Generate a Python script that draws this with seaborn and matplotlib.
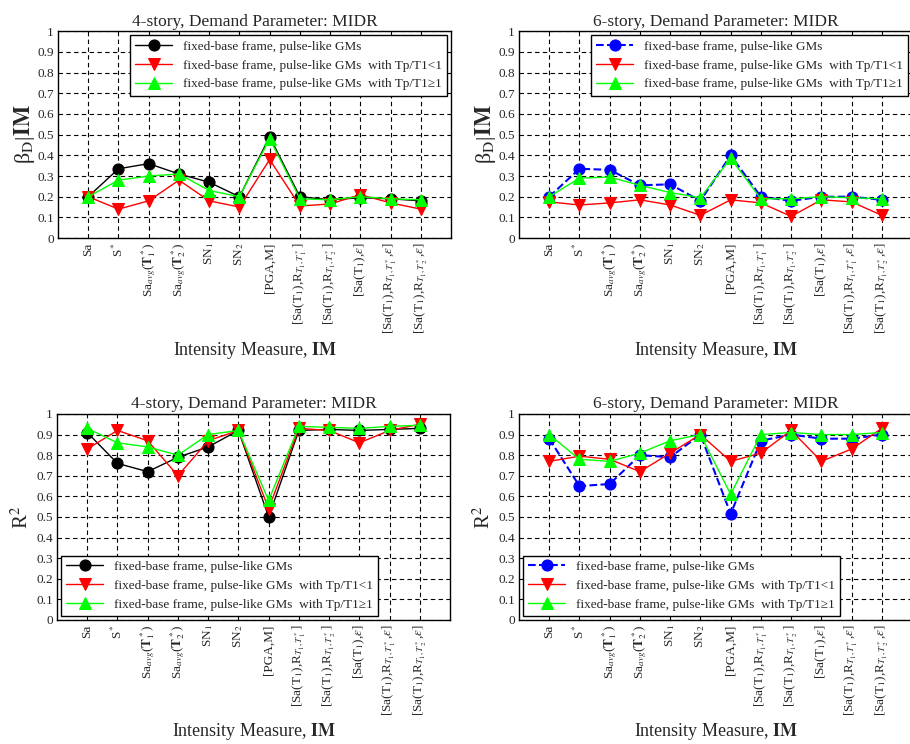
import seaborn as sns
import matplotlib.pyplot as plt

# intensity measures (x categories)
im_labels = [
    'Sa',
    r'S$^*$',
    r'Sa$_{avg}$($\mathbf{T}_1^*$)',
    r'Sa$_{avg}$($\mathbf{T}_2^*$)',
    r'SN$_1$',
    r'SN$_2$',
    '[PGA,M]',
    r'[Sa(T$_1$),R$_{T_1,T_1^*}$]',
    r'[Sa(T$_1$),R$_{T_1,T_2^*}$]',
    r'[Sa(T$_1$),$\varepsilon$]',
    r'[Sa(T$_1$),R$_{T_1,T_1^*}$,$\varepsilon$]',
    r'[Sa(T$_1$),R$_{T_1,T_2^*}$,$\varepsilon$]',
]
im_pos = list(range(1, 13))

# beta_D|IM, 4-story
beta4_all = [0.20, 0.335, 0.36, 0.31, 0.27, 0.20, 0.49, 0.20, 0.185, 0.195, 0.19, 0.18]
beta4_lt1 = [0.20, 0.14, 0.18, 0.28, 0.18, 0.15, 0.38, 0.155, 0.165, 0.21, 0.17, 0.14]
beta4_ge1 = [0.20, 0.28, 0.30, 0.31, 0.23, 0.20, 0.48, 0.19, 0.185, 0.20, 0.19, 0.185]

# beta_D|IM, 6-story
beta6_all = [0.20, 0.335, 0.33, 0.255, 0.26, 0.18, 0.40, 0.20, 0.18, 0.20, 0.20, 0.185]
beta6_lt1 = [0.175, 0.16, 0.17, 0.185, 0.16, 0.11, 0.185, 0.17, 0.105, 0.185, 0.175, 0.11]
beta6_ge1 = [0.20, 0.29, 0.295, 0.255, 0.22, 0.195, 0.385, 0.19, 0.19, 0.20, 0.195, 0.19]

# R^2, 4-story
r2_4_all = [0.91, 0.76, 0.72, 0.79, 0.84, 0.92, 0.50, 0.92, 0.925, 0.92, 0.925, 0.93]
r2_4_lt1 = [0.83, 0.92, 0.87, 0.70, 0.87, 0.92, 0.54, 0.93, 0.92, 0.86, 0.92, 0.95]
r2_4_ge1 = [0.93, 0.86, 0.84, 0.80, 0.90, 0.92, 0.58, 0.94, 0.935, 0.93, 0.94, 0.945]

# R^2, 6-story
r2_6_all = [0.88, 0.65, 0.66, 0.80, 0.79, 0.90, 0.515, 0.87, 0.90, 0.88, 0.88, 0.90]
r2_6_lt1 = [0.77, 0.795, 0.78, 0.72, 0.81, 0.90, 0.77, 0.81, 0.92, 0.77, 0.83, 0.93]
r2_6_ge1 = [0.90, 0.78, 0.77, 0.81, 0.87, 0.90, 0.61, 0.90, 0.91, 0.90, 0.90, 0.91]

leg_labels = [
    'fixed-base frame, pulse-like GMs',
    'fixed-base frame, pulse-like GMs  with Tp/T1<1',
    'fixed-base frame, pulse-like GMs  with Tp/T1\u22651',
]

sns.set_style('white')
plt.rcParams['font.family'] = ['Liberation Serif', 'DejaVu Serif']
plt.rcParams['mathtext.fontset'] = 'stix'

fig = plt.figure(figsize=(9.1, 7.44), dpi=100)
ax_w = 0.432
ax_h = 0.278
axes = [
    fig.add_axes([0.0637, 0.680, ax_w, ax_h]),
    fig.add_axes([0.5703, 0.680, ax_w, ax_h]),
    fig.add_axes([0.0626, 0.1667, ax_w, 0.2769]),
    fig.add_axes([0.5703, 0.1667, ax_w, 0.2769]),
]

panels = [
    (axes[0], '4-story', beta4_all, beta4_lt1, beta4_ge1, 'k', '-', 'beta', 'upper right'),
    (axes[1], '6-story', beta6_all, beta6_lt1, beta6_ge1, 'b', '--', 'beta', 'upper right'),
    (axes[2], '4-story', r2_4_all, r2_4_lt1, r2_4_ge1, 'k', '-', 'r2', 'lower left'),
    (axes[3], '6-story', r2_6_all, r2_6_lt1, r2_6_ge1, 'b', '--', 'r2', 'lower left'),
]

for ax, story, v_all, v_lt1, v_ge1, c_all, ls_all, kind, loc in panels:
    lw_all = 1.5 if ls_all == '--' else 1.0
    sns.lineplot(x=im_pos, y=v_all, ax=ax, color=c_all, linestyle=ls_all,
                 linewidth=lw_all, marker='o', markersize=8,
                 markeredgecolor=c_all, label=leg_labels[0])
    sns.lineplot(x=im_pos, y=v_lt1, ax=ax, color='red', linewidth=1.0,
                 marker='v', markersize=9, markeredgecolor='red',
                 label=leg_labels[1])
    sns.lineplot(x=im_pos, y=v_ge1, ax=ax, color='#00ff00', linewidth=1.0,
                 marker='^', markersize=9, markeredgecolor='#00ff00',
                 label=leg_labels[2])

    ax.set_xlim(0, 13)
    ax.set_ylim(0, 1)
    ax.set_xticks(im_pos)
    ax.set_xticklabels(im_labels, rotation=90, fontsize=9.5)
    ax.set_yticks([i / 10 for i in range(11)])
    ax.set_yticklabels(['0'] + ['0.%d' % i for i in range(1, 10)] + ['1'], fontsize=9.5)
    ax.tick_params(direction='in', length=4, color='k', pad=3)
    ax.grid(True, color='k', linestyle=(0, (4, 3)), linewidth=0.8)
    for sp in ax.spines.values():
        sp.set_color('k')
        sp.set_linewidth(1.0)

    ax.set_title(story + ', Demand Parameter: MIDR', fontsize=12.5, pad=4)
    ax.set_xlabel(r'Intensity Measure, $\mathbf{IM}$', fontsize=13, labelpad=4)
    if kind == 'beta':
        ax.set_ylabel('\u03b2' + r'$_{\mathrm{D}}$|$\mathbf{IM}$', fontsize=16, labelpad=0)
    else:
        ax.set_ylabel(r'R$^2$', fontsize=15, labelpad=2)

    leg = ax.legend(loc=loc, fontsize=9.5, frameon=True, fancybox=False,
                    edgecolor='k', framealpha=1, borderaxespad=0.3,
                    handlelength=2.8, labelspacing=0.5, borderpad=0.4)
    leg.get_frame().set_linewidth(1.0)

fig.savefig('out.png', dpi=100)
